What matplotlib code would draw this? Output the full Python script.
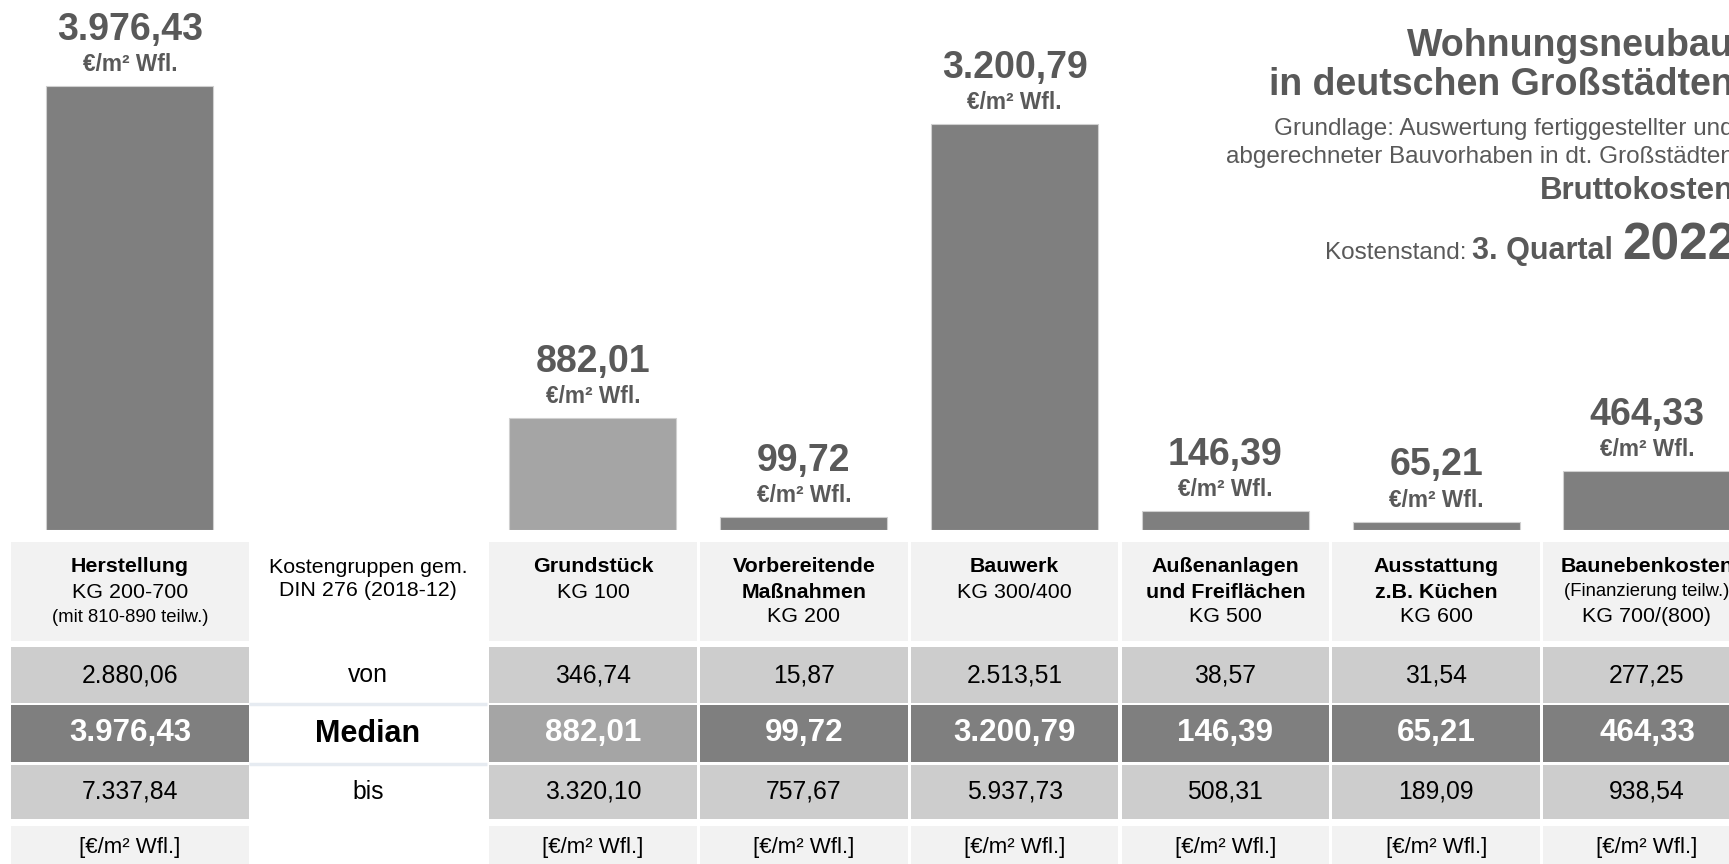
import matplotlib
matplotlib.use("Agg")
import matplotlib.pyplot as plt

plt.rcParams['font.family'] = ['Liberation Sans', 'DejaVu Sans']

# --- data -------------------------------------------------------------
categories = ["Herstellung", "Grundstück", "Vorbereitende Maßnahmen", "Bauwerk",
              "Außenanlagen und Freiflächen", "Ausstattung z.B. Küchen", "Baunebenkosten"]
median_vals = [3976.43, 882.01, 99.72, 3200.79, 146.39, 65.21, 464.33]
von_vals = [2880.06, 346.74, 15.87, 2513.51, 38.57, 31.54, 277.25]
bis_vals = [7337.84, 3320.10, 757.67, 5937.73, 508.31, 189.09, 938.54]

# header cell text: (text, style) per line
header_lines = [
    [("Herstellung", "b"), ("KG 200-700", "n"), ("(mit 810-890 teilw.)", "s")],
    [("Grundstück", "b"), ("KG 100", "n")],
    [("Vorbereitende", "b"), ("Maßnahmen", "b"), ("KG 200", "n")],
    [("Bauwerk", "b"), ("KG 300/400", "n")],
    [("Außenanlagen", "b"), ("und Freiflächen", "b"), ("KG 500", "n")],
    [("Ausstattung", "b"), ("z.B. Küchen", "b"), ("KG 600", "n")],
    [("Baunebenkosten", "b"), ("(Finanzierung teilw.)", "s"), ("KG 700/(800)", "n")],
]
label_col = ["Kostengruppen gem.\nDIN 276 (2018-12)", "von", "Median", "bis"]
unit_label = "€/m² Wfl."
unit_cell = "[€/m² Wfl.]"

title_lines = ["Wohnungsneubau", "in deutschen Großstädten"]
sub_lines = ["Grundlage: Auswertung fertiggestellter und",
             "abgerechneter Bauvorhaben in dt. Großstädten"]
cost_type = "Bruttokosten"
stand = ("Kostenstand:", "3. Quartal", "2022")


def de(v):
    # german number format 1.234,56
    return f"{v:,.2f}".replace(",", "X").replace(".", ",").replace("X", ".")


# --- layout (pixels of the 1729x864 canvas) ---------------------------
W, H = 1729, 864
GREY = "#595959"
col_x = [130] + [593 + 210.8 * i for i in range(6)]
col_w = [238] + [207.5] * 6
lab_x, lab_w = 368, 238
rows = {"head": (542, 99), "von": (647, 56), "med": (705, 57), "bis": (765, 54), "unit": (826, 46)}
bar_base = 530

fig = plt.figure(figsize=(W / 100, H / 100), dpi=100)
lay = fig.add_axes([0, 0, 1, 1])
lay.set_xlim(0, W)
lay.set_ylim(H, 0)
lay.axis('off')

# table cells
med_colors = ["#a5a5a5" if c == "Grundstück" else "#7f7f7f" for c in categories]
row_colors = {"head": "#f2f2f2", "von": "#cdcdcd", "med": med_colors, "bis": "#cdcdcd", "unit": "#f2f2f2"}
for key, (top, h) in rows.items():
    lay.bar(col_x, h, bottom=top, width=col_w, color=row_colors[key], linewidth=0)

# header texts
line_y = [566, 592, 617]
style = {"b": dict(fontsize=15.4, weight='bold'), "n": dict(fontsize=15.4), "s": dict(fontsize=13.3)}
for x, lines in zip(col_x, header_lines):
    for (txt, st), y in zip(lines, line_y):
        lay.text(x, y, txt, ha='center', va='center', color='black', **style[st])

lay.text(lab_x, 579, label_col[0], ha='center', va='center', fontsize=15.4,
         linespacing=1.22, color='black')
lay.text(lab_x, rows["von"][0] + rows["von"][1] / 2, label_col[1], ha='center', va='center', fontsize=17.8)
lay.text(lab_x, rows["med"][0] + rows["med"][1] / 2, label_col[2], ha='center', va='center',
         fontsize=22, weight='bold')
lay.text(lab_x, rows["bis"][0] + rows["bis"][1] / 2, label_col[3], ha='center', va='center', fontsize=17.8)
lay.hlines([704, 763.5], lab_x - lab_w / 2, lab_x + lab_w / 2, color="#e6ebf1", lw=2.5)

# value rows
for x, v0, vm, v1 in zip(col_x, von_vals, median_vals, bis_vals):
    lay.text(x, rows["von"][0] + rows["von"][1] / 2, de(v0), ha='center', va='center', fontsize=17.8)
    lay.text(x, rows["med"][0] + rows["med"][1] / 2, de(vm), ha='center', va='center',
             fontsize=22.6, weight='bold', color='white')
    lay.text(x, rows["bis"][0] + rows["bis"][1] / 2, de(v1), ha='center', va='center', fontsize=17.8)
    lay.text(x, 848, unit_cell, ha='center', va='center', fontsize=16)

# --- bars ----------------------------------------------------------------
pos = [0, (H - bar_base) / H, 1, bar_base / H]
ax_all = fig.add_axes(pos)     # Herstellung has its own scale
ax_kg = fig.add_axes(pos)
ax_all.set_ylim(0, bar_base / 0.11166)
ax_kg.set_ylim(0, bar_base / 0.1268)
for a in (ax_all, ax_kg):
    a.set_xlim(0, W)
    a.axis('off')

bar_colors = ["#a5a5a5" if c == "Grundstück" else "#7f7f7f" for c in categories]
ax_all.bar(col_x[:1], median_vals[:1], width=167, color=bar_colors[:1], edgecolor="#d0d0d0", linewidth=0.8)
ax_kg.bar(col_x[1:], median_vals[1:], width=167, color=bar_colors[1:], edgecolor="#d0d0d0", linewidth=0.8)

for i, (x, v) in enumerate(zip(col_x, median_vals)):
    a = ax_all if i == 0 else ax_kg
    a.annotate(de(v), xy=(x, v), xytext=(0, 40.5), textcoords='offset points',
               ha='center', va='center', fontsize=27, weight='bold', color=GREY)
    a.annotate(unit_label, xy=(x, v), xytext=(0, 15.5), textcoords='offset points',
               ha='center', va='center', fontsize=16.3, weight='bold', color=GREY)

# --- title block (right aligned, runs off the edge) ----------------------
RX = 1734
lay.text(RX, 46, title_lines[0], ha='right', va='center', fontsize=27, weight='bold', color=GREY)
lay.text(RX, 85, title_lines[1], ha='right', va='center', fontsize=27, weight='bold', color=GREY)
lay.text(RX, 129, sub_lines[0], ha='right', va='center', fontsize=17.5, color=GREY)
lay.text(RX, 157, sub_lines[1], ha='right', va='center', fontsize=17.5, color=GREY)
lay.text(RX, 191, cost_type, ha='right', va='center', fontsize=22.5, weight='bold', color=GREY)

r = fig.canvas.get_renderer()
t_year = lay.text(RX + 2, 259, stand[2], ha='right', va='baseline', fontsize=37, weight='bold', color=GREY)
bb = t_year.get_window_extent(r)
x_left = lay.transData.inverted().transform((bb.x0, 0))[0]
t_q = lay.text(x_left - 9, 259, stand[1], ha='right', va='baseline', fontsize=22, weight='bold', color=GREY)
bb = t_q.get_window_extent(r)
x_left = lay.transData.inverted().transform((bb.x0, 0))[0]
lay.text(x_left - 5, 259, stand[0], ha='right', va='baseline', fontsize=17.5, color=GREY)

fig.savefig("out.png", dpi=100)
